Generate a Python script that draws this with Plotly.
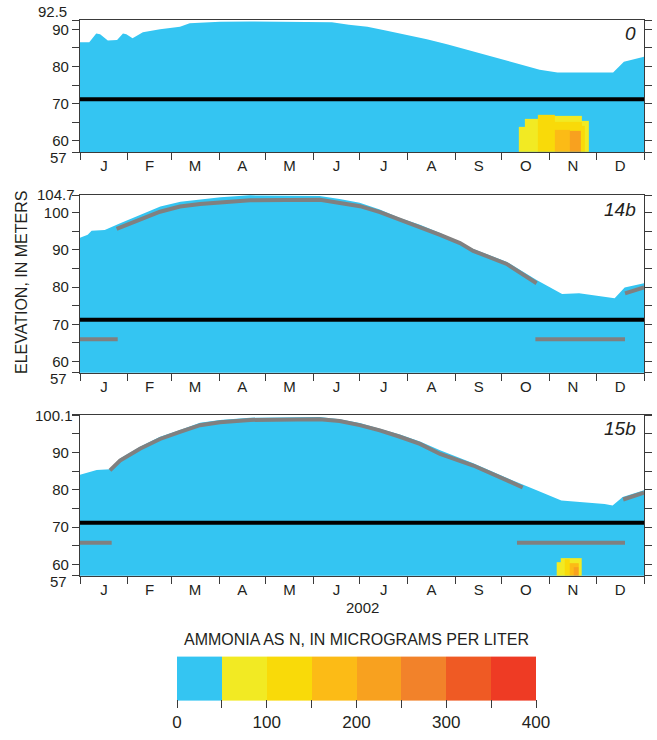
import numpy as np
import plotly.graph_objects as go

# ---------------------------------------------------------------- data
MONTH_LABELS = ["J", "F", "M", "A", "M", "J", "J", "A", "S", "O", "N", "D"]
MONTH_EDGES = [0, 31, 59, 90, 120, 151, 181, 212, 243, 273, 304, 334, 365]

SITE_NAMES = ["0", "14b", "15b"]
Y_TOPS = [92.5, 104.7, 100.1]
Y_BOTTOM = 57.0
OUTLET_ELEV = 71.2

# ammonia classes (micrograms per liter)
CLASS_EDGES = [0, 50, 100, 150, 200, 250, 300, 350, 400]
CLASS_COLORS = ["#34c5f2", "#f2ea23", "#f9da09", "#fcbb16",
                "#f8a11f", "#f2822a", "#ef5a24", "#ee3b24"]

# water-surface elevation (day of year, meters)
SITE0_DAY = [0, 6, 10.5, 13, 18, 24, 27.8, 30, 34, 40.7, 51.8, 64.7, 71, 90.6, 110,
             163, 174, 186, 198.6, 211.5, 224.5, 237.5, 254.5, 276, 297.5, 309,
             345, 352, 365]
SITE0_ELEV = [86.5, 86.5, 88.9, 88.7, 87.0, 87.1, 88.9, 88.7, 87.6, 89.2, 90.0, 90.7,
              91.6, 92.0, 92.1, 91.9, 91.2, 90.7, 89.6, 88.5, 87.3, 86.0, 84.0, 81.5,
              79.1, 78.4, 78.4, 81.3, 82.6]

SITE14_DAY = [0, 5, 7.5, 16, 26, 39, 52, 65, 78, 91, 110, 155, 168, 181, 194, 207,
              220, 233, 254.5, 276, 295.5, 312, 323, 338, 346, 352.5, 365]
SITE14_ELEV = [93.2, 94.0, 95.1, 95.3, 97.1, 99.3, 101.6, 102.9, 103.5, 104.1, 104.6,
               104.4, 103.6, 102.6, 100.8, 98.5, 96.7, 94.5, 90.2, 86.8, 81.9, 78.1,
               78.3, 77.4, 77.0, 79.9, 81.0]

SITE15_DAY = [0, 10.8, 19.4, 25.9, 38.8, 51.8, 64.7, 77.7, 90.6, 110, 155, 168, 181,
              194, 207, 220, 233, 254.5, 276, 295.5, 311.5, 339.5, 344.7, 351.2, 365]
SITE15_ELEV = [84.0, 85.3, 85.5, 88.4, 91.5, 94.2, 96.0, 97.96, 98.7, 99.3, 99.5, 98.9,
               97.9, 96.4, 94.8, 92.9, 90.6, 87.1, 83.2, 79.9, 77.1, 76.2, 75.8, 78.1,
               79.9]

# gray layer lines near the surface
SITE14_LAYER_DAY = [23.7, 38.8, 51.8, 64.7, 77.7, 90.6, 110, 155.3, 168.3, 181.2,
                    194.1, 207.1, 220, 233, 245.9, 254.5, 276.1, 295.5]
SITE14_LAYER_ELEV = [95.6, 98.2, 100.2, 101.6, 102.3, 102.7, 103.3, 103.4, 102.6,
                     101.7, 100.1, 98.1, 96.0, 94.0, 91.8, 89.7, 86.2, 81.0]
SITE14_LATE_DAY = [352.7, 365]
SITE14_LATE_ELEV = [78.3, 79.9]

SITE15_LAYER_DAY = [19.4, 25.9, 38.8, 51.8, 64.7, 77.7, 90.6, 110, 155, 168, 181,
                    194, 207, 220, 233, 254.5, 276, 286.5]
SITE15_LAYER_ELEV = [85.2, 87.8, 91.0, 93.6, 95.5, 97.3, 98.1, 98.7, 98.9, 98.4, 97.3,
                     95.9, 94.2, 92.3, 89.6, 86.5, 82.6, 80.6]
SITE15_LATE_DAY = [351.5, 365]
SITE15_LATE_ELEV = [77.4, 79.2]

# gray deep lines (elevation, [start day, end day] spans)
SITE14_DEEP_ELEV = 66.0
SITE14_DEEP_SPANS = [(0, 24.4), (294.7, 352.7)]
SITE15_DEEP_ELEV = 65.8
SITE15_DEEP_SPANS = [(0, 20.5), (282.8, 352.7)]

# ammonia blocks: (start day, end day, top elevation, concentration), later ones on top
SITE0_AMMONIA = [(284, 288, 63.8, 75), (288, 296, 65.8, 75), (296, 307, 67.0, 125),
                 (307, 325, 66.8, 75), (325, 329, 65.5, 75), (307, 325, 65.0, 125),
                 (307, 317, 62.9, 175), (317, 324, 62.6, 225), (324, 327, 64.0, 125)]
SITE14_AMMONIA = []
SITE15_AMMONIA = [(308.5, 311, 60.7, 75), (311, 324.7, 61.7, 75), (314, 317, 61.5, 125),
                  (317, 322.5, 60.3, 175), (319.5, 322.5, 59.4, 225)]

SURFACES = [(SITE0_DAY, SITE0_ELEV), (SITE14_DAY, SITE14_ELEV), (SITE15_DAY, SITE15_ELEV)]
AMMONIA = [SITE0_AMMONIA, SITE14_AMMONIA, SITE15_AMMONIA]

# ---------------------------------------------------------------- layout constants
W, H = 657, 740
PLOT_LEFT, PLOT_RIGHT = 80, 644
PANEL_PX = [(20, 152), (195, 372.7), (414.7, 575.7)]
TEXT = "#231f20"
AXIS = "#3a3a3a"
WATER = CLASS_COLORS[0]
FONT = "Liberation Sans, Arial, sans-serif"
TICK_SIZE = 15


def py(px):
    return 1 - px / H


def px_x(px):
    return px / W


colorscale = []
n = len(CLASS_COLORS)
for i, c in enumerate(CLASS_COLORS):
    colorscale.append([i / n, c])
    colorscale.append([(i + 1) / n, c])


def ammonia_grid(blocks):
    xs = sorted({b[0] for b in blocks} | {b[1] for b in blocks})
    ys = sorted({Y_BOTTOM} | {b[2] for b in blocks})
    z = np.full((len(ys) - 1, len(xs) - 1), np.nan)
    for x0, x1, top, val in blocks:
        for j in range(len(xs) - 1):
            xc = 0.5 * (xs[j] + xs[j + 1])
            if not (x0 <= xc <= x1):
                continue
            for i in range(len(ys) - 1):
                yc = 0.5 * (ys[i] + ys[i + 1])
                if yc <= top:
                    z[i, j] = val
    return xs, ys, z


fig = go.Figure()

month_mid = [(MONTH_EDGES[i] + MONTH_EDGES[i + 1]) / 2 for i in range(12)]

for k in range(3):
    base = k + 1
    over = k + 4
    xa = "x" if base == 1 else f"x{base}"
    ya = "y" if base == 1 else f"y{base}"
    xo, yo = f"x{over}", f"y{over}"
    top = Y_TOPS[k]

    days, elev = SURFACES[k]
    fig.add_trace(go.Scatter(x=days, y=elev, mode="lines", fill="tozeroy",
                             fillcolor=WATER, line=dict(width=0, color=WATER),
                             hoverinfo="skip", showlegend=False, xaxis=xa, yaxis=ya))

    if AMMONIA[k]:
        gx, gy, gz = ammonia_grid(AMMONIA[k])
        fig.add_trace(go.Heatmap(x=gx, y=gy, z=gz, coloraxis="coloraxis",
                                 zsmooth=False, hoverinfo="skip",
                                 xaxis=xo, yaxis=yo))

    fig.add_trace(go.Scatter(x=[0, 365], y=[OUTLET_ELEV, OUTLET_ELEV], mode="lines",
                             line=dict(color="black", width=4), hoverinfo="skip",
                             showlegend=False, xaxis=xo, yaxis=yo))

    if k == 1:
        layer = [(SITE14_LAYER_DAY, SITE14_LAYER_ELEV), (SITE14_LATE_DAY, SITE14_LATE_ELEV)]
        deep_elev, deep_spans = SITE14_DEEP_ELEV, SITE14_DEEP_SPANS
    elif k == 2:
        layer = [(SITE15_LAYER_DAY, SITE15_LAYER_ELEV), (SITE15_LATE_DAY, SITE15_LATE_ELEV)]
        deep_elev, deep_spans = SITE15_DEEP_ELEV, SITE15_DEEP_SPANS
    else:
        layer, deep_spans = [], []
    for lx, ly in layer:
        fig.add_trace(go.Scatter(x=lx, y=ly, mode="lines",
                                 line=dict(color="#808080", width=4), hoverinfo="skip",
                                 showlegend=False, xaxis=xo, yaxis=yo))
    for s0, s1 in deep_spans:
        fig.add_trace(go.Scatter(x=[s0, s1], y=[deep_elev, deep_elev], mode="lines",
                                 line=dict(color="#808080", width=4), hoverinfo="skip",
                                 showlegend=False, xaxis=xo, yaxis=yo))

    t_px, b_px = PANEL_PX[k]
    dom_y = [py(b_px), py(t_px)]
    dom_x = [px_x(PLOT_LEFT), px_x(PLOT_RIGHT)]

    major = [v for v in range(60, int(top) + 1, 10) if top - v > 0.5]
    minor = sorted(set([Y_BOTTOM, top] + list(range(60, int(top) + 1, 5))))

    xkey = "xaxis" if base == 1 else f"xaxis{base}"
    ykey = "yaxis" if base == 1 else f"yaxis{base}"
    fig.update_layout(**{
        xkey: dict(domain=dom_x, anchor=ya, range=[0, 365], showgrid=False,
                   zeroline=False, showline=True, linecolor=AXIS, linewidth=1.3,
                   mirror=True, tickmode="array", tickvals=month_mid,
                   ticktext=MONTH_LABELS, ticks="", ticklen=0,
                   tickfont=dict(family=FONT, size=TICK_SIZE, color=TEXT),
                   minor=dict(tickmode="array", tickvals=MONTH_EDGES, ticks="outside",
                              ticklen=7, tickcolor=AXIS, tickwidth=1.2)),
        ykey: dict(domain=dom_y, anchor=xa, range=[Y_BOTTOM, top], showgrid=False,
                   zeroline=False, showline=True, linecolor=AXIS, linewidth=1.3,
                   mirror="ticks", tickmode="array", tickvals=major,
                   ticks="outside", ticklen=7, tickcolor=AXIS, tickwidth=1.2,
                   tickfont=dict(family=FONT, size=TICK_SIZE, color=TEXT),
                   minor=dict(tickmode="array", tickvals=minor, ticks="outside",
                              ticklen=7, tickcolor=AXIS, tickwidth=1.2)),
        f"xaxis{over}": dict(overlaying=xa, anchor=yo, range=[0, 365], visible=False),
        f"yaxis{over}": dict(overlaying=ya, anchor=xo, range=[Y_BOTTOM, top], visible=False),
    })

annotations = []
label_shift = [(69, 8), (77, 0), (75, -1)]
for k in range(3):
    ya = "y" if k == 0 else f"y{k + 1}"
    t_px, b_px = PANEL_PX[k]
    rx, sh = label_shift[k]
    annotations.append(dict(text=f"{Y_TOPS[k]:.1f}", x=px_x(rx), xref="paper",
                            xanchor="right", y=Y_TOPS[k], yref=ya, yanchor="middle",
                            yshift=sh, showarrow=False,
                            font=dict(family=FONT, size=TICK_SIZE, color=TEXT)))
    annotations.append(dict(text=f"{Y_BOTTOM:.0f}", x=px_x(69), xref="paper",
                            xanchor="right", y=Y_BOTTOM, yref=ya, yanchor="middle",
                            yshift=-6, showarrow=False,
                            font=dict(family=FONT, size=TICK_SIZE, color=TEXT)))
    annotations.append(dict(text=f"<i>{SITE_NAMES[k]}</i>", x=px_x(638), xref="paper",
                            xanchor="right", y=py(t_px + 14), yref="paper",
                            yanchor="middle", showarrow=False,
                            font=dict(family=FONT, size=19, color=TEXT)))

annotations.append(dict(text="ELEVATION, IN METERS", x=px_x(21), xref="paper",
                        y=py(283), yref="paper", textangle=-90, showarrow=False,
                        xanchor="center", yanchor="middle",
                        font=dict(family=FONT, size=16, color=TEXT)))
annotations.append(dict(text="2002", x=px_x(362), xref="paper", y=py(607), yref="paper",
                        showarrow=False, xanchor="center", yanchor="middle",
                        font=dict(family=FONT, size=TICK_SIZE, color=TEXT)))

# horizontal colour bar; its anchor box includes the tick labels below the bar
bar_left, bar_right, box_bottom = 177, 536, 732.5
fig.update_layout(
    width=W, height=H,
    margin=dict(l=0, r=0, t=0, b=0),
    paper_bgcolor="white", plot_bgcolor="white",
    showlegend=False,
    annotations=annotations,
    coloraxis=dict(
        cmin=CLASS_EDGES[0], cmax=CLASS_EDGES[-1], colorscale=colorscale,
        colorbar=dict(
            orientation="h", x=px_x((bar_left + bar_right) / 2), xanchor="center",
            y=py(box_bottom), yanchor="bottom", len=(bar_right - bar_left) / W,
            lenmode="fraction", thickness=44, thicknessmode="pixels",
            xpad=0, ypad=0, outlinewidth=0,
            tickmode="array", tickvals=CLASS_EDGES,
            ticktext=[str(v) if v % 100 == 0 else "" for v in CLASS_EDGES],
            ticks="outside", ticklen=8, tickcolor=AXIS, tickwidth=1.2,
            tickfont=dict(family=FONT, size=17, color=TEXT),
            title=dict(text="AMMONIA AS N, IN MICROGRAMS PER LITER", side="top",
                       font=dict(family=FONT, size=16, color=TEXT)),
        ),
    ),
)

fig.write_html("out.html")
